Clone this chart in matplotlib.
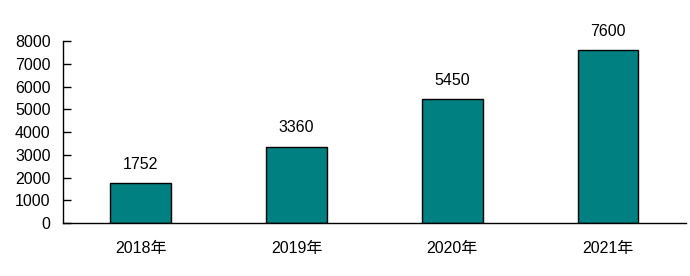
import matplotlib.pyplot as plt

plt.rcParams['font.family'] = ['Liberation Sans', 'Noto Sans CJK SC']

years = ["2018年", "2019年", "2020年", "2021年"]
values = [1752, 3360, 5450, 7600]

fig = plt.figure(figsize=(6.9, 2.76), dpi=100)
ax = fig.add_axes([0.0913, 0.192, 0.9027, 0.6594])

x = range(len(years))
bars = ax.bar(x, values, width=0.39, color="#008080", edgecolor="black", linewidth=1)

for xi, v in zip(x, values):
    ax.annotate(str(v), (xi, v), xytext=(0, 8), textcoords="offset points",
                ha="center", va="bottom", fontsize=11.5)

ax.set_xlim(-0.5, 3.5)
ax.set_ylim(0, 8000)
ax.set_yticks(range(0, 8001, 1000))
ax.set_xticks(list(x))
ax.set_xticklabels(years, fontsize=11.5)
ax.tick_params(axis="x", length=0, pad=13)
ax.tick_params(axis="y", direction="in", length=6, width=1, labelsize=11.5, pad=9)

for s in ["top", "right"]:
    ax.spines[s].set_visible(False)
ax.spines["left"].set_linewidth(1)
ax.spines["bottom"].set_linewidth(1)

fig.savefig("out.png", dpi=100)
